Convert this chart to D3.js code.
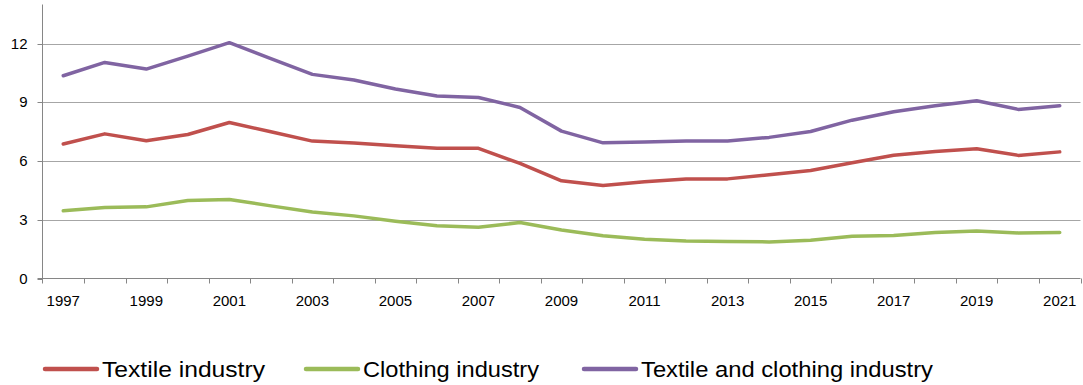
<!DOCTYPE html>
<html>
<head>
<meta charset="utf-8">
<script src="https://cdn.jsdelivr.net/npm/d3@7"></script>
<style>
  html, body { margin: 0; padding: 0; background: #fff; }
  svg { display: block; }
  text { font-family: "Liberation Sans", Arial, sans-serif; fill: #000; }
</style>
</head>
<body>
<svg id="chart" width="1083" height="385"></svg>
<script>
const years = d3.range(1997, 2022);
const textile = [6.87, 7.39, 7.04, 7.36, 7.97, 7.50, 7.02, 6.92, 6.78, 6.65, 6.65, 5.88, 4.99, 4.75, 4.94, 5.09, 5.09, 5.30, 5.52, 5.91, 6.30, 6.49, 6.63, 6.29, 6.47];
const clothing = [3.46, 3.63, 3.66, 3.99, 4.04, 3.71, 3.40, 3.20, 2.93, 2.69, 2.62, 2.86, 2.48, 2.18, 2.01, 1.92, 1.89, 1.87, 1.96, 2.16, 2.20, 2.35, 2.43, 2.33, 2.35];
const combined = [10.36, 11.04, 10.70, 11.36, 12.05, 11.24, 10.43, 10.14, 9.68, 9.32, 9.25, 8.74, 7.53, 6.93, 6.97, 7.03, 7.02, 7.21, 7.51, 8.09, 8.52, 8.83, 9.08, 8.64, 8.83];
const yTicks = [0, 3, 6, 9, 12];
const xTickLabels = years.filter(v => v % 2 === 1);
const seriesNames = ["Textile industry", "Clothing industry", "Textile and clothing industry"];
const seriesColors = ["#C0504D", "#9BBB59", "#8064A2"];

const series = [textile, clothing, combined];

const svg = d3.select("#chart");
const mLeft = 42.5, mRight = 1080.5, mTop = 4.5, mBottom = 278.5;

const x = d3.scaleBand().domain(years).range([mLeft, mRight]).paddingInner(0).paddingOuter(0);
const y = d3.scaleLinear().domain([0, 14]).range([mBottom, mTop]);

// gridlines
svg.append("g")
  .selectAll("line")
  .data(yTicks.filter(t => t > 0))
  .join("line")
  .attr("x1", mLeft).attr("x2", mRight)
  .attr("y1", d => Math.round(y(d)) + 0.5).attr("y2", d => Math.round(y(d)) + 0.5)
  .attr("stroke", "#A6A6A6").attr("stroke-width", 1);

// y axis
const yAxis = svg.append("g")
  .attr("transform", `translate(${mLeft},0)`)
  .call(d3.axisLeft(y).tickValues(yTicks).tickSize(5).tickPadding(10).tickSizeOuter(0));
yAxis.select(".domain").remove();
yAxis.selectAll(".tick line").attr("stroke", "#868686");
yAxis.selectAll(".tick text").attr("font-size", 15).attr("font-family", "Liberation Sans, Arial, sans-serif");
yAxis.selectAll(".tick").attr("transform", d => `translate(0,${Math.round(y(d)) + 0.5})`);
svg.append("line")
  .attr("x1", mLeft).attr("x2", mLeft).attr("y1", mTop).attr("y2", mBottom + 5)
  .attr("stroke", "#868686");

// x axis
svg.append("line")
  .attr("x1", mLeft - 5).attr("x2", mRight).attr("y1", mBottom).attr("y2", mBottom)
  .attr("stroke", "#868686");
const boundaries = years.map(yr => x(yr)).concat([x(years[years.length - 1]) + x.bandwidth()]);
svg.append("g")
  .selectAll("line")
  .data(boundaries.slice(1))
  .join("line")
  .attr("x1", d => Math.round(d) + 0.5).attr("x2", d => Math.round(d) + 0.5)
  .attr("y1", mBottom).attr("y2", mBottom + 5)
  .attr("stroke", "#868686");
svg.append("g")
  .selectAll("text")
  .data(xTickLabels)
  .join("text")
  .attr("x", d => x(d) + x.bandwidth() / 2)
  .attr("y", 305.5)
  .attr("text-anchor", "middle")
  .attr("font-size", 15)
  .text(d => d);

// lines
const line = d3.line()
  .x((d, i) => x(years[i]) + x.bandwidth() / 2)
  .y(d => y(d));
svg.append("g")
  .selectAll("path")
  .data(series)
  .join("path")
  .attr("d", d => line(d))
  .attr("fill", "none")
  .attr("stroke", (d, i) => seriesColors[i])
  .attr("stroke-width", 3.5)
  .attr("stroke-linejoin", "round")
  .attr("stroke-linecap", "round");

// legend
const legendX = [45, 306, 584];
const legendW = [163, 176, 292];
const lg = svg.append("g").selectAll("g").data(seriesNames).join("g");
lg.append("line")
  .attr("x1", (d, i) => legendX[i]).attr("x2", (d, i) => legendX[i] + 52)
  .attr("y1", 369).attr("y2", 369)
  .attr("stroke", (d, i) => seriesColors[i])
  .attr("stroke-width", 4.5)
  .attr("stroke-linecap", "round");
lg.append("text")
  .attr("x", (d, i) => legendX[i] + 57)
  .attr("y", 377)
  .attr("font-size", 22)
  .attr("textLength", (d, i) => legendW[i])
  .attr("lengthAdjust", "spacingAndGlyphs")
  .text(d => d);
</script>
</body>
</html>
